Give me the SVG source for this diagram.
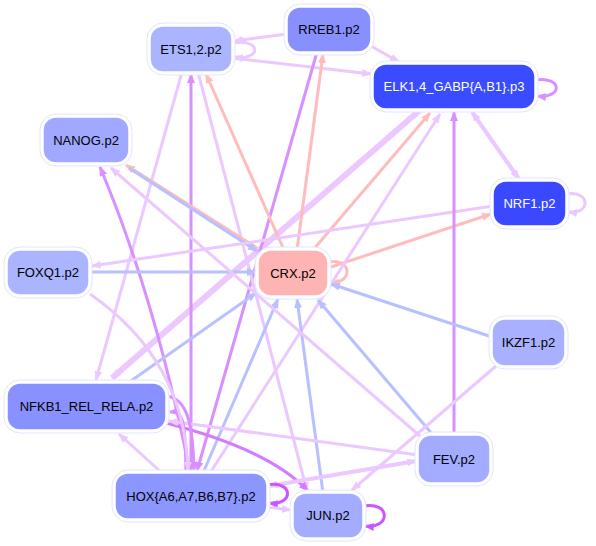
<svg xmlns="http://www.w3.org/2000/svg" width="596" height="546" viewBox="0 0 596 546">
<style>
.e{fill:none;stroke-width:3}
.lp{stroke:#ebc8ff}
.mp{stroke:#d890ff}
.sp{stroke:#cc55ff}
.pk{stroke:#ffbcbc}
.lb{stroke:#b8c0ff}
.halo{fill:#ffffff;stroke:#e2e4ff;stroke-width:1}
.nb{stroke:#ffffff;stroke-width:1.5}
text{font-family:"Liberation Sans",Arial,sans-serif;font-size:13px;text-anchor:middle}
.w{fill:#ffffff}
</style>
<defs>
<marker id="aLP" markerUnits="userSpaceOnUse" markerWidth="10" markerHeight="8" viewBox="0 0 10 8" refX="9" refY="4" orient="auto-start-reverse"><path d="M0,0 L10,4 L0,8 z" fill="#ebc8ff"/></marker>
<marker id="aMP" markerUnits="userSpaceOnUse" markerWidth="10" markerHeight="8" viewBox="0 0 10 8" refX="9" refY="4" orient="auto-start-reverse"><path d="M0,0 L10,4 L0,8 z" fill="#d890ff"/></marker>
<marker id="aSP" markerUnits="userSpaceOnUse" markerWidth="10" markerHeight="8" viewBox="0 0 10 8" refX="9" refY="4" orient="auto-start-reverse"><path d="M0,0 L10,4 L0,8 z" fill="#cc55ff"/></marker>
<marker id="aPK" markerUnits="userSpaceOnUse" markerWidth="10" markerHeight="8" viewBox="0 0 10 8" refX="9" refY="4" orient="auto-start-reverse"><path d="M0,0 L10,4 L0,8 z" fill="#ffbcbc"/></marker>
<marker id="aLB" markerUnits="userSpaceOnUse" markerWidth="10" markerHeight="8" viewBox="0 0 10 8" refX="9" refY="4" orient="auto-start-reverse"><path d="M0,0 L10,4 L0,8 z" fill="#b8c0ff"/></marker>
<marker id="aNJ" markerUnits="userSpaceOnUse" markerWidth="10" markerHeight="8" viewBox="0 0 10 8" refX="9" refY="4" orient="auto"><path d="M0,0 L10,4 L0,8 z" fill="#d27cff"/></marker>
</defs>
<rect width="596" height="546" fill="#ffffff"/>
<g id="connectors">
<path class="e lp" style="stroke-width:6" d="M420,110 L112,378" marker-end="url(#aLP)"/>
<path class="e lp" d="M287,34 L234,41" marker-end="url(#aLP)"/>
<path class="e lp" d="M232,43 C262,38 262,61 234,57" marker-end="url(#aLP)"/>
<path class="e lp" d="M232,58 L371,74" marker-end="url(#aLP)"/>
<path class="e lp" d="M371,46 L399,62" marker-end="url(#aLP)"/>
<path class="e mp" d="M535,80 C563,76 563,99 537,96" marker-end="url(#aMP)"/>
<path class="e pk" d="M297,250 L323,54" marker-end="url(#aPK)"/>
<path class="e mp" d="M317,52 L197,471" marker-end="url(#aMP)"/>
<path class="e mp" d="M191,473 L191,74" marker-end="url(#aMP)"/>
<path class="e pk" d="M284,250 L206,74" marker-end="url(#aPK)"/>
<path class="e lp" d="M182,72 L96,380" marker-end="url(#aLP)"/>
<path class="e lp" d="M198,72 L307,491" marker-end="url(#aLP)"/>
<path class="e mp" d="M190,473 Q156,300 100,167" marker-end="url(#aMP)"/>
<path class="e pk" d="M257,248 L126,165" marker-end="url(#aPK)"/>
<path class="e lb" d="M129,168 L257,251" marker-end="url(#aLB)"/>
<path class="e pk" d="M313,250 L430,113" marker-end="url(#aPK)"/>
<path class="e pk" d="M328,268 L491,214" marker-end="url(#aPK)"/>
<path class="e pk" d="M328,262 C353,257 353,285 330,282" marker-end="url(#aPK)"/>
<path class="e lp" d="M493,206 L92,266" marker-end="url(#aLP)"/>
<path class="e lp" d="M566,194 C591,190 591,215 568,212" marker-end="url(#aLP)"/>
<path class="e lp" style="stroke-width:4" d="M472,112 L519,179" marker-start="url(#aLP)" marker-end="url(#aLP)"/>
<path class="e mp" d="M454,435 L454,112" marker-end="url(#aMP)"/>
<path class="e lp" d="M210,473 L440,114" marker-end="url(#aLP)"/>
<path class="e lb" d="M128,383 L256,293" marker-end="url(#aLB)"/>
<path class="e lb" d="M89,272 L256,272" marker-end="url(#aLB)"/>
<path class="e lb" d="M492,337 L331,284" marker-end="url(#aLB)"/>
<path class="e lb" d="M203,473 L278,299" marker-end="url(#aLB)"/>
<path class="e lb" d="M323,493 L297,299" marker-end="url(#aLB)"/>
<path class="e lb" d="M433,435 L318,300" marker-end="url(#aLB)"/>
<path class="e lp" d="M496,366 L352,490" marker-end="url(#aLP)"/>
<path class="e" style="stroke:#d27cff" d="M166,423 Q270,450 308,491" marker-end="url(#aNJ)"/>
<path class="e lp" d="M418,455 L169,421" marker-end="url(#aLP)"/>
<path class="e lp" style="stroke-width:4" d="M269,486 L416,461" marker-start="url(#aLP)" marker-end="url(#aLP)"/>
<path class="e sp" d="M267,485 C294,480 294,506 269,503" marker-end="url(#aSP)"/>
<path class="e lp" d="M267,507 L291,510" marker-end="url(#aLP)"/>
<path class="e sp" d="M363,506 C391,501 391,529 365,526" marker-end="url(#aSP)"/>
<path class="e lp" d="M162,473 L119,434" marker-end="url(#aLP)"/>
<path class="e mp" d="M166,396 C186,398 193,420 194,471" marker-end="url(#aMP)"/>
<path class="e mp" d="M186,473 C185,430 186,410 170,412" marker-end="url(#aMP)"/>
<path class="e lp" d="M420,436 L111,168" marker-end="url(#aLP)"/>
<path class="e lp" d="M90,294 Q185,360 188,471" marker-end="url(#aLP)"/>
</g>
<g id="ETS">
<rect class="halo" x="147" y="23" width="88" height="52" rx="16"/>
<rect class="nb" x="150" y="26" width="82" height="46" rx="13" fill="#aab4ff"/>
<text x="191" y="53.5">ETS1,2.p2</text>
</g>
<g id="RREB1">
<rect class="halo" x="284" y="4" width="90" height="51" rx="16"/>
<rect class="nb" x="287" y="7" width="84" height="45" rx="13" fill="#8890ff"/>
<text x="329" y="34">RREB1.p2</text>
</g>
<g id="ELK">
<rect class="halo" x="370" y="61" width="168" height="51" rx="16"/>
<rect class="nb" x="373" y="64" width="162" height="45" rx="13" fill="#3a4cff"/>
<text class="w" x="454" y="91">ELK1,4_GABP{A,B1}.p3</text>
</g>
<g id="NANOG">
<rect class="halo" x="40" y="114" width="92" height="52" rx="16"/>
<rect class="nb" x="43" y="117" width="86" height="46" rx="13" fill="#a0a8ff"/>
<text x="86" y="144.5">NANOG.p2</text>
</g>
<g id="FOXQ1">
<rect class="halo" x="4" y="247" width="88" height="51" rx="16"/>
<rect class="nb" x="7" y="250" width="82" height="45" rx="13" fill="#aab4ff"/>
<text x="48" y="277">FOXQ1.p2</text>
</g>
<g id="CRX">
<rect class="halo" x="255" y="247" width="76" height="52" rx="16"/>
<rect class="nb" x="258" y="250" width="70" height="46" rx="13" fill="#ffb4b4"/>
<text x="293" y="277.5">CRX.p2</text>
</g>
<g id="NRF1">
<rect class="halo" x="490" y="178" width="79" height="51" rx="16"/>
<rect class="nb" x="493" y="181" width="73" height="45" rx="13" fill="#3a48ff"/>
<text class="w" x="529.5" y="208">NRF1.p2</text>
</g>
<g id="IKZF1">
<rect class="halo" x="489" y="316" width="79" height="53" rx="16"/>
<rect class="nb" x="492" y="319" width="73" height="47" rx="13" fill="#a8b0ff"/>
<text x="528.5" y="347">IKZF1.p2</text>
</g>
<g id="NFKB1">
<rect class="halo" x="4" y="380" width="165" height="53" rx="16"/>
<rect class="nb" x="7" y="383" width="159" height="47" rx="13" fill="#8891ff"/>
<text x="86.5" y="411">NFKB1_REL_RELA.p2</text>
</g>
<g id="HOX">
<rect class="halo" x="112" y="470" width="158" height="52" rx="16"/>
<rect class="nb" x="115" y="473" width="152" height="46" rx="13" fill="#8c96ff"/>
<text x="191" y="500.5">HOX{A6,A7,B6,B7}.p2</text>
</g>
<g id="JUN">
<rect class="halo" x="290" y="490" width="76" height="51" rx="16"/>
<rect class="nb" x="293" y="493" width="70" height="45" rx="13" fill="#a4acff"/>
<text x="328" y="520">JUN.p2</text>
</g>
<g id="FEV">
<rect class="halo" x="415" y="432" width="78" height="54" rx="16"/>
<rect class="nb" x="418" y="435" width="72" height="48" rx="13" fill="#a4acff"/>
<text x="454" y="463.5">FEV.p2</text>
</g>
</svg>
